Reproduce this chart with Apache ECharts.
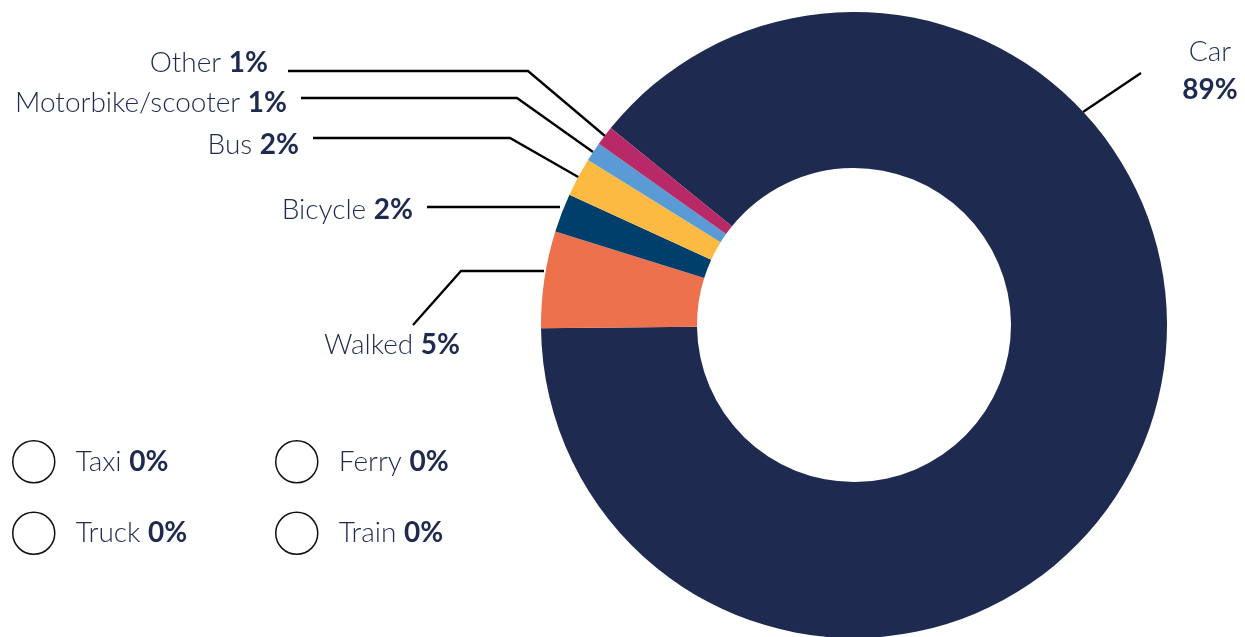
<!DOCTYPE html>
<html>
<head>
<meta charset="utf-8">
<script src="https://cdn.jsdelivr.net/npm/echarts@6/dist/echarts.min.js"></script>
<style>
  html, body { margin: 0; padding: 0; background: #fff; }
  #chart { width: 1245px; height: 637px; }
</style>
</head>
<body>
<div id="chart"></div>
<script>
// ---- data ----
const categories = ['Car', 'Walked', 'Bicycle', 'Bus', 'Motorbike/scooter', 'Other', 'Taxi', 'Truck', 'Ferry', 'Train'];
const shares     = [89, 5, 2, 2, 1, 1, 0, 0, 0, 0];
const sliceColors = ['#1e2a4f', '#ee714d', '#003f6b', '#fdba43', '#5b9bd5', '#b72a67', '#ffffff', '#ffffff', '#ffffff', '#ffffff'];
const zeroLegendCol1 = ['Taxi', 'Truck'];
const zeroLegendCol2 = ['Ferry', 'Train'];

// ---- label placement (layout only) ----
const labelGuides = {
  'Car':               { x: 1210, y: 71,  align: 'center', line: [[1083, 112], [1141, 73]] },
  'Walked':            { x: 460,  y: 345, align: 'right',  line: [[544, 271], [461, 271], [413, 325]] },
  'Bicycle':           { x: 413,  y: 210, align: 'right',  line: [[560, 207], [427, 207]] },
  'Bus':               { x: 299,  y: 145, align: 'right',  line: [[580, 178], [510, 138], [313, 138]] },
  'Motorbike/scooter': { x: 287,  y: 103, align: 'right',  line: [[593, 152], [517, 98], [301, 98]] },
  'Other':             { x: 268,  y: 63,  align: 'right',  line: [[605, 136], [528, 71], [288, 71]] }
};

const textColor = '#1e2a4f';
const fontFamily = 'Lato, "Noto Sans", sans-serif';
const fs = 28;

const pieData = categories.map((name, i) => {
  const item = { name: name, value: shares[i], itemStyle: { color: sliceColors[i] } };
  if (shares[i] === 0) {
    item.label = { show: false };
    item.labelLine = { show: false };
  }
  return item;
});

function zeroLegend(names, left) {
  return {
    data: names,
    orient: 'vertical',
    left: left,
    top: 435,
    itemWidth: 42,
    itemHeight: 42,
    itemGap: 28,
    icon: 'circle',
    selectedMode: false,
    itemStyle: { color: '#ffffff', borderColor: '#111111', borderWidth: 1.5 },
    formatter: function (name) {
      const v = shares[categories.indexOf(name)];
      return '{n|' + name + ' }{v|' + v + '%}';
    },
    textStyle: {
      padding: [0, 0, 0, 16],
      fontFamily: fontFamily,
      rich: {
        n: { fontSize: fs, color: textColor, fontFamily: fontFamily, fontWeight: 300 },
        v: { fontSize: fs, color: textColor, fontFamily: fontFamily, fontWeight: 'bold' }
      }
    }
  };
}

const chart = echarts.init(document.getElementById('chart'), null, { renderer: 'canvas' });

chart.setOption({
  backgroundColor: '#ffffff',
  animation: false,
  legend: [zeroLegend(zeroLegendCol1, 7), zeroLegend(zeroLegendCol2, 270)],
  series: [{
    type: 'pie',
    center: [854, 325],
    radius: [157, 313],
    startAngle: 141,
    clockwise: true,
    avoidLabelOverlap: false,
    emphasis: { disabled: true },
    data: pieData,
    label: {
      show: true,
      position: 'outside',
      formatter: function (p) {
        if (p.name === 'Car') return '{n|' + p.name + '}\n{v|' + p.value + '%}';
        return '{n|' + p.name + ' }{v|' + p.value + '%}';
      },
      lineHeight: 38,
      rich: {
        n: { fontSize: fs, color: textColor, fontFamily: fontFamily, fontWeight: 300, lineHeight: 38 },
        v: { fontSize: fs, color: textColor, fontFamily: fontFamily, fontWeight: 'bold', lineHeight: 38 }
      }
    },
    labelLine: {
      show: true,
      length: 30,
      length2: 30,
      lineStyle: { color: '#000000', width: 2.3 }
    },
    labelLayout: function (params) {
      const g = labelGuides[categories[params.dataIndex]];
      if (!g) return {};
      return {
        x: g.x,
        y: g.y,
        align: g.align,
        verticalAlign: 'middle',
        labelLinePoints: g.line,
        hideOverlap: false,
        moveOverlap: null
      };
    }
  }]
});
</script>
</body>
</html>
